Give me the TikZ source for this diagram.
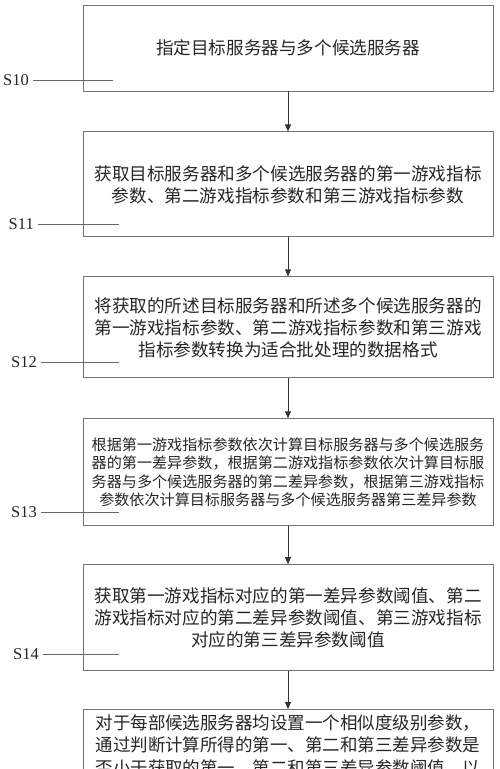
\documentclass[tikz,border=0pt]{standalone}
\usepackage{fontspec}
\setmainfont{Liberation Serif}
\newfontfamily\cjk{Noto Sans CJK SC}
\usetikzlibrary{arrows.meta,positioning}

\tikzset{
  stepbox/.style={draw=black!55, line width=0.9pt, text=black!85,
    minimum width=410pt, align=center, inner sep=4pt,
    font=\cjk\fontsize{17.6}{22}\selectfont},
  lab/.style={inner xsep=4pt, inner ysep=0pt, text=black!85,
    font=\fontsize{16.5}{18}\selectfont},
  lead/.style={draw=black!60, line width=0.7pt},
  flow/.style={draw=black!80, line width=0.8pt, -{Triangle[length=7pt,width=6pt]}}
}

\begin{document}
\begin{tikzpicture}
  \useasboundingbox (0,0) rectangle (500pt,-769pt);

  \node[stepbox, minimum height=86pt] (s10) at (288pt,-48pt)
    {指定目标服务器与多个候选服务器};
  \node[stepbox, minimum height=105pt] (s11) [below=40pt of s10]
    {获取目标服务器和多个候选服务器的第一游戏指标\\
     参数、第二游戏指标参数和第三游戏指标参数};
  \node[stepbox, minimum height=101pt] (s12) [below=39pt of s11]
    {将获取的所述目标服务器和所述多个候选服务器的\\
     第一游戏指标参数、第二游戏指标参数和第三游戏\\
     指标参数转换为适合批处理的数据格式};
  \node[stepbox, minimum height=107pt,
        font=\cjk\fontsize{15.1}{18.3}\selectfont] (s13) [below=40pt of s12]
    {根据第一游戏指标参数依次计算目标服务器与多个候选服务\\
     器的第一差异参数，根据第二游戏指标参数依次计算目标服\\
     务器与多个候选服务器的第二差异参数，根据第三游戏指标\\
     参数依次计算目标服务器与多个候选服务器第三差异参数};
  \node[stepbox, minimum height=106pt] (s14) [below=38pt of s13]
    {获取第一游戏指标对应的第一差异参数阈值、第二\\
     游戏指标对应的第二差异参数阈值、第三游戏指标\\
     对应的第三差异参数阈值};
  \node[stepbox, inner ysep=5pt, font=\cjk\fontsize{17.5}{22.5}\selectfont]
    (s15) [below=38pt of s14]
    {对于每部候选服务器均设置一个相似度级别参数，\\
     通过判断计算所得的第一、第二和第三差异参数是\\
     否小于获取的第一、第二和第三差异参数阈值，以};

  % arrows between the steps
  \foreach \a/\b in {s10/s11,s11/s12,s12/s13,s13/s14,s14/s15} {
    \draw[flow] (\a) -- (\b);
  }

  % step labels with their leader lines
  \foreach \n/\x/\y/\e in {10/33/80/113, 11/38/224/119, 12/41/362/119,
                           13/41/512/119, 14/43/654/119} {
    \node[lab, anchor=east] (l\n) at (\x pt,-\y pt) {S\n};
    \coordinate (e\n) at (\e pt,-\y pt);
    \draw[lead] (l\n) -- (e\n);
  }
\end{tikzpicture}
\end{document}
